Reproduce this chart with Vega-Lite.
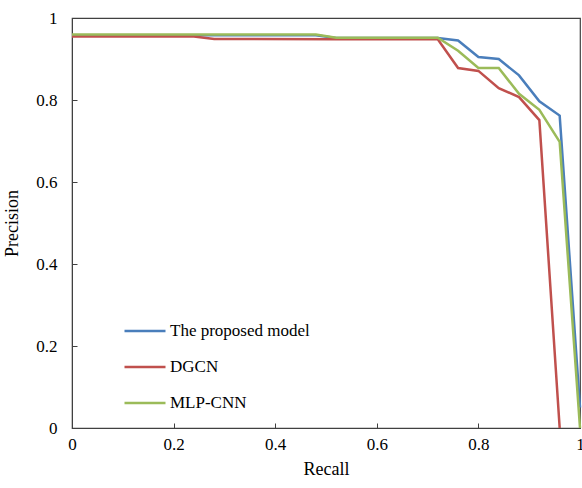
{
  "$schema": "https://vega.github.io/schema/vega-lite/v6.json",
  "width": 508,
  "height": 410,
  "autosize": {"type": "none"},
  "padding": {"left": 72, "top": 18, "right": 2, "bottom": 60},
  "background": "white",
  "config": {
    "view": {"stroke": "#404040", "strokeWidth": 1.2},
    "font": "Times New Roman",
    "axis": {
      "grid": false,
      "domainColor": "#404040",
      "tickColor": "#404040",
      "labelFont": "Times New Roman",
      "titleFont": "Times New Roman",
      "labelFontSize": 17,
      "titleFontSize": 18,
      "labelColor": "#000",
      "titleColor": "#000",
      "titleFontWeight": "normal"
    }
  },
  "data": {
    "values": [
      {"model": "The proposed model", "recall": 0.0, "precision": 0.958},
      {"model": "The proposed model", "recall": 0.24, "precision": 0.958},
      {"model": "The proposed model", "recall": 0.48, "precision": 0.958},
      {"model": "The proposed model", "recall": 0.52, "precision": 0.951},
      {"model": "The proposed model", "recall": 0.72, "precision": 0.951},
      {"model": "The proposed model", "recall": 0.76, "precision": 0.945},
      {"model": "The proposed model", "recall": 0.8, "precision": 0.905},
      {"model": "The proposed model", "recall": 0.84, "precision": 0.9},
      {"model": "The proposed model", "recall": 0.88, "precision": 0.86},
      {"model": "The proposed model", "recall": 0.92, "precision": 0.797},
      {"model": "The proposed model", "recall": 0.96, "precision": 0.762},
      {"model": "The proposed model", "recall": 1.0, "precision": 0.05},
      {"model": "DGCN", "recall": 0.0, "precision": 0.955},
      {"model": "DGCN", "recall": 0.24, "precision": 0.955},
      {"model": "DGCN", "recall": 0.28, "precision": 0.949},
      {"model": "DGCN", "recall": 0.52, "precision": 0.948},
      {"model": "DGCN", "recall": 0.72, "precision": 0.948},
      {"model": "DGCN", "recall": 0.76, "precision": 0.878},
      {"model": "DGCN", "recall": 0.8, "precision": 0.871},
      {"model": "DGCN", "recall": 0.84, "precision": 0.829},
      {"model": "DGCN", "recall": 0.88, "precision": 0.807},
      {"model": "DGCN", "recall": 0.92, "precision": 0.751},
      {"model": "DGCN", "recall": 0.96, "precision": 0.0},
      {"model": "MLP-CNN", "recall": 0.0, "precision": 0.96},
      {"model": "MLP-CNN", "recall": 0.24, "precision": 0.96},
      {"model": "MLP-CNN", "recall": 0.48, "precision": 0.96},
      {"model": "MLP-CNN", "recall": 0.52, "precision": 0.952},
      {"model": "MLP-CNN", "recall": 0.72, "precision": 0.952},
      {"model": "MLP-CNN", "recall": 0.76, "precision": 0.92},
      {"model": "MLP-CNN", "recall": 0.8, "precision": 0.878},
      {"model": "MLP-CNN", "recall": 0.84, "precision": 0.878},
      {"model": "MLP-CNN", "recall": 0.88, "precision": 0.815},
      {"model": "MLP-CNN", "recall": 0.92, "precision": 0.776},
      {"model": "MLP-CNN", "recall": 0.96, "precision": 0.698},
      {"model": "MLP-CNN", "recall": 1.0, "precision": 0.0}
    ]
  },
  "mark": {"type": "line", "strokeWidth": 2.5},
  "encoding": {
    "x": {
      "field": "recall", "type": "quantitative", "title": "Recall",
      "scale": {"domain": [0, 1], "nice": false},
      "axis": {"values": [0, 0.2, 0.4, 0.6, 0.8, 1], "format": "~g", "tickSize": -5, "labelPadding": 13, "titlePadding": 8, "labelFlush": false}
    },
    "y": {
      "field": "precision", "type": "quantitative", "title": "Precision",
      "scale": {"domain": [0, 1], "nice": false},
      "axis": {"values": [0, 0.2, 0.4, 0.6, 0.8, 1], "format": "~g", "tickSize": -5, "labelPadding": 20, "titlePadding": 14, "labelFlush": false}
    },
    "color": {
      "field": "model", "type": "nominal",
      "scale": {"domain": ["The proposed model", "DGCN", "MLP-CNN"], "range": ["#4A7EBB", "#C0504D", "#9BBB59"]},
      "legend": {
        "title": null, "orient": "none", "legendX": 51, "legendY": 291,
        "symbolType": "stroke", "symbolSize": 1681, "symbolStrokeWidth": 2.5,
        "labelFontSize": 17, "labelFont": "Times New Roman", "labelColor": "#000",
        "rowPadding": 6, "labelOffset": 3
      }
    },
    "order": {"field": "recall", "type": "quantitative"}
  }
}
